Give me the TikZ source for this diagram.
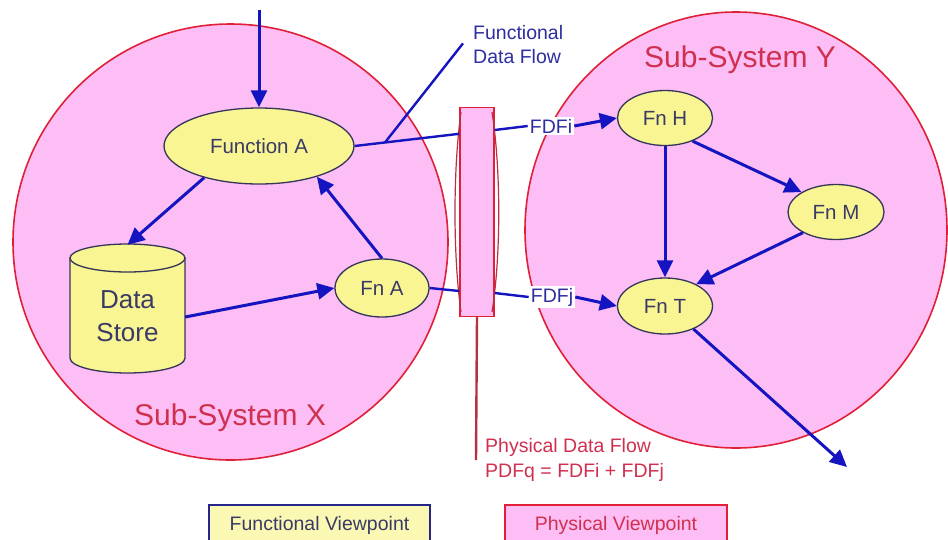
\documentclass[tikz,border=0pt]{standalone}
\usepackage{fontspec}
\setmainfont{Liberation Sans}
\usetikzlibrary{shapes.geometric,arrows.meta}
\definecolor{pinkf}{HTML}{FCBEF4}
\definecolor{redl}{HTML}{E02038}
\definecolor{redd}{HTML}{B83044}
\definecolor{redt}{HTML}{D03050}
\definecolor{yell}{HTML}{F8F592}
\definecolor{blu}{HTML}{1414C0}
\definecolor{navy}{HTML}{35355A}
\definecolor{txt}{HTML}{3A3A66}
\definecolor{tblue}{HTML}{2E2EA0}
\begin{document}
\begin{tikzpicture}[x=1pt,y=-1pt,
  fn/.style={ellipse, draw=navy, line width=1.3pt, fill=yell, inner sep=0pt, text=txt, font=\fontsize{20.5}{24}\selectfont},
  flow/.style={draw=blu, line width=3pt, -{Triangle[length=17pt,width=16pt]}},
  fline/.style={draw=blu, line width=2.4pt},
  lbl/.style={text=tblue, font=\fontsize{19.5}{24}\selectfont},
  sysname/.style={text=redt, font=\fontsize{30}{34}\selectfont},
  phys/.style={text=redt, font=\fontsize{19.5}{25}\selectfont}
]
\useasboundingbox (0,0) rectangle (948,539);
\clip (0,0) rectangle (948,539);
\fill[white] (0,0) rectangle (948,539);

% sub-systems
\draw[fill=pinkf, draw=redl, line width=1.6pt] (230.5,242) ellipse [x radius=217.5, y radius=218];
\draw[fill=pinkf, draw=redl, line width=1.6pt] (736,230) ellipse [x radius=211, y radius=218];
\node[sysname] (sx) at (230,418) {Sub-System X};
\node[sysname] (sy) at (740,60) {Sub-System Y};

% physical data flow element
\node[draw=redl, fill=pinkf, line width=1.4pt, minimum width=34pt, minimum height=209pt, inner sep=0pt] (pr) at (477,212) {};
\draw[draw=redd, line width=1.2pt] (461,112) .. controls (453,170) and (453,255) .. (461,312);
\draw[draw=redd, line width=1.2pt] (492,112) .. controls (501,170) and (501,255) .. (492,312);
\coordinate (pbot) at (476,460);
\draw[draw=redd, line width=2.4pt] (pr.south) -- (pbot);

% function nodes
\node[fn, minimum width=190pt, minimum height=76pt] (fa) at (259,146) {Function A};
\node[fn, minimum width=94pt, minimum height=58pt] (fna) at (382,288) {Fn A};
\node[fn, minimum width=95pt, minimum height=55pt] (fnh) at (665,118) {Fn H};
\node[fn, minimum width=96pt, minimum height=55pt] (fnm) at (836,212) {Fn M};
\node[fn, minimum width=95pt, minimum height=56pt] (fnt) at (665,306) {Fn T};

% data store cylinder
\filldraw[fill=yell, draw=navy, line width=1.3pt] (70,258) -- (70,358) arc[start angle=180, end angle=0, x radius=57.5, y radius=15] -- (185,258) -- cycle;
\filldraw[fill=yell, draw=navy, line width=1.3pt] (127.5,258) ellipse [x radius=57.5, y radius=14];
\node[inner sep=0pt, minimum width=115pt, minimum height=128pt] (ds) at (127.5,309) {};
\node[align=center, text=txt, font=\fontsize{26}{33}\selectfont, inner sep=0pt] (dst) at (127.5,316) {Data\\Store};

% arrows inside X
\coordinate (topin) at (259,10);
\draw[flow] (topin) -- (fa.north);
\draw[flow] (fa.210) -- (ds.north);
\draw[flow] (fna.north) -- (fa.-28);
\draw[flow] ([yshift=-8pt]ds.east) -- (fna.west);

% functional data flows crossing
\draw[fline] (fa.east) -- coordinate[pos=0.29] (jn) ([yshift=-27pt]pr.north west);
\node[lbl, align=left, anchor=north west, inner sep=0pt] (fdf) at (473,25) {Functional\\Data Flow};
\draw[fline] ([xshift=-10pt,yshift=1pt]fdf.west) -- (jn);
\draw[fline] (fna.east) -- ([yshift=-79pt]pr.west);

\node[lbl, fill=white, inner sep=2pt] (fdfi) at (551,126) {FDFi};
\node[lbl, fill=white, inner sep=2pt] (fdfj) at (552,297) {FDFj};
\draw[fline] ([yshift=82pt]pr.east) -- (fdfi.west);
\draw[fline] ([yshift=-81pt]pr.east) -- (fdfj.west);
\draw[flow] (fdfi.east) -- (fnh.west);
\draw[flow] (fdfj.east) -- (fnt.west);

% arrows inside Y
\draw[flow] (fnh.south) -- (fnt.north);
\draw[flow] (fnh.-40) -- (fnm.150);
\draw[flow] (fnm.212) -- (fnt.35);
\coordinate (outT) at (847,467);
\draw[flow] (fnt.-39) -- (outT);

% physical data flow label
\node[phys, align=left, anchor=north west, inner sep=0pt] (pdf) at (485,438) {Physical Data Flow\\PDFq = FDFi + FDFj};

% legend
\draw[fill=yell!70!white, draw=navy!70!blue, line width=1.6pt] (209,505) rectangle (430,552);
\node[text=txt, font=\fontsize{19.5}{22}\selectfont, anchor=base] (fvt) at (319.5,530) {Functional Viewpoint};
\draw[fill=pinkf, draw=redl, line width=2.6pt] (505,505) rectangle (727,552);
\node[text=redt, font=\fontsize{19.5}{22}\selectfont, anchor=base] (pvt) at (616,530) {Physical Viewpoint};
\end{tikzpicture}
\end{document}
